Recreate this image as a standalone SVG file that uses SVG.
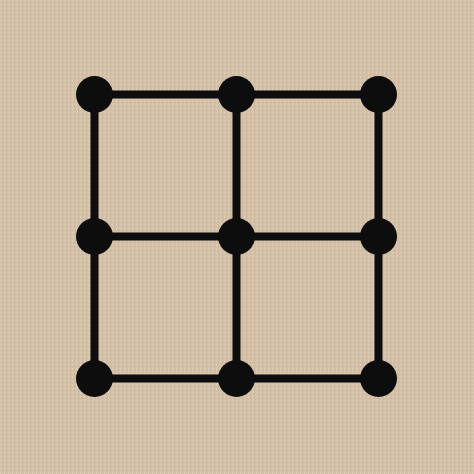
<svg xmlns="http://www.w3.org/2000/svg" width="474" height="474" viewBox="0 0 474 474">
<defs>
<style>
.edge{stroke:#0d0d0d;stroke-width:8;stroke-linecap:butt;fill:none}
.node{fill:#0d0d0d}
</style>
<pattern id="tex" width="4" height="4" patternUnits="userSpaceOnUse">
<rect width="4" height="4" fill="#d3bfa5"/>
<rect x="0" y="0" width="1" height="2" fill="#e4d4bf" opacity="0.7"/>
<rect x="2" y="2" width="1" height="2" fill="#bfa98e" opacity="0.6"/>
<rect x="1" y="3" width="2" height="1" fill="#e0cfb9" opacity="0.5"/>
</pattern>
</defs>
<rect width="474" height="474" fill="url(#tex)"/>
<g id="edges">
<line class="edge" x1="94.5" y1="94.5" x2="378.5" y2="94.5"/>
<line class="edge" x1="94.5" y1="236.5" x2="378.5" y2="236.5"/>
<line class="edge" x1="94.5" y1="378.5" x2="378.5" y2="378.5"/>
<line class="edge" x1="94.5" y1="94.5" x2="94.5" y2="378.5"/>
<line class="edge" x1="236.5" y1="94.5" x2="236.5" y2="378.5"/>
<line class="edge" x1="378.5" y1="94.5" x2="378.5" y2="378.5"/>
</g>
<g id="n1"><circle class="node" cx="94.5" cy="94.5" r="18.5"/></g>
<g id="n2"><circle class="node" cx="236.5" cy="94.5" r="18.5"/></g>
<g id="n3"><circle class="node" cx="378.5" cy="94.5" r="18.5"/></g>
<g id="n4"><circle class="node" cx="94.5" cy="236.5" r="18.5"/></g>
<g id="n5"><circle class="node" cx="236.5" cy="236.5" r="18.5"/></g>
<g id="n6"><circle class="node" cx="378.5" cy="236.5" r="18.5"/></g>
<g id="n7"><circle class="node" cx="94.5" cy="378.5" r="18.5"/></g>
<g id="n8"><circle class="node" cx="236.5" cy="378.5" r="18.5"/></g>
<g id="n9"><circle class="node" cx="378.5" cy="378.5" r="18.5"/></g>
</svg>
